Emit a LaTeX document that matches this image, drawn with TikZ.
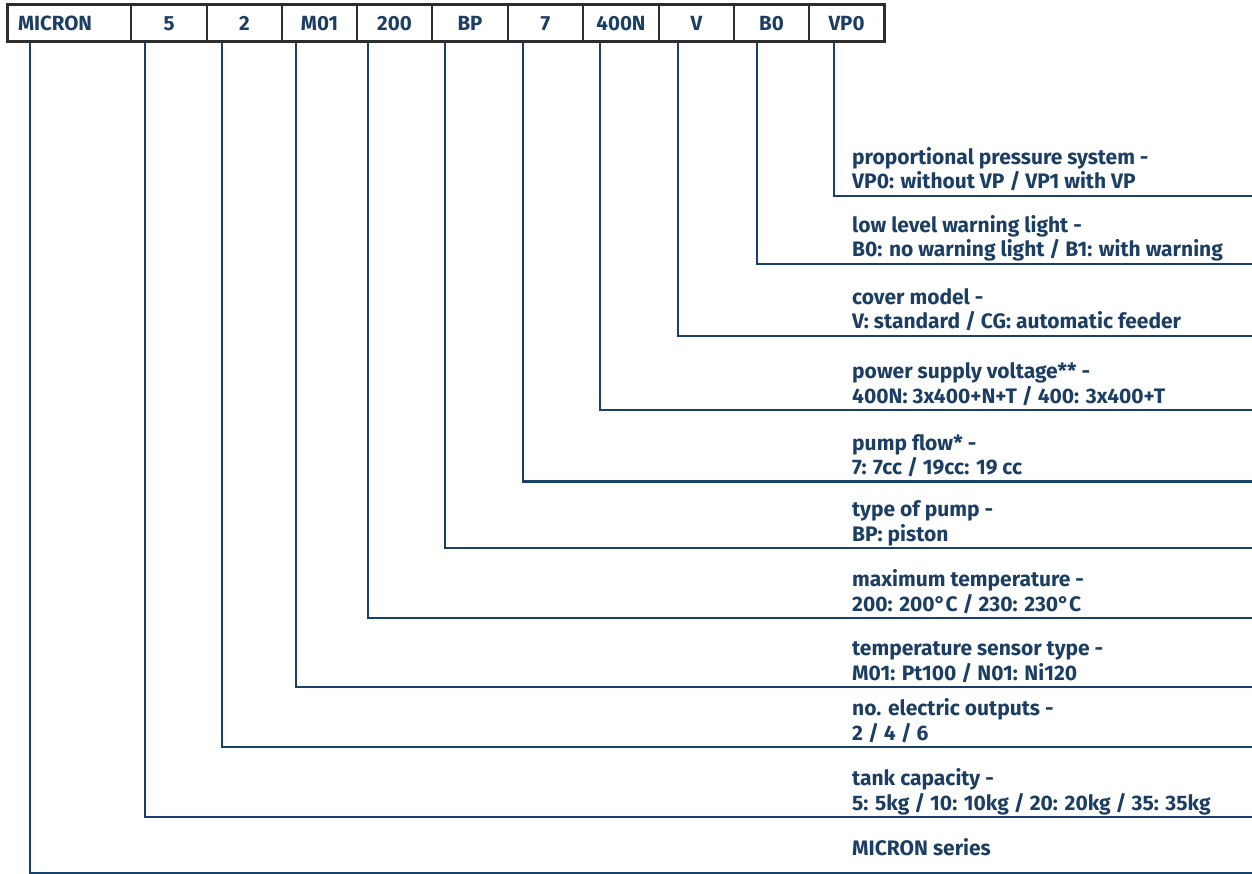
\documentclass[tikz,border=0pt]{standalone}
\usepackage{fontspec}
\setmainfont{Fira Sans}
\usetikzlibrary{calc}
\definecolor{navy}{RGB}{24,64,104}
\definecolor{txt}{RGB}{28,62,98}
\definecolor{boxline}{RGB}{45,45,45}
\begin{document}
\begin{tikzpicture}[x=1pt,y=-1pt,
  cell/.style={draw=boxline,line width=2pt,minimum height=37pt,inner sep=0pt,outer sep=0pt,
    text=txt,font=\fontsize{20.5}{22}\selectfont\bfseries},
  conn/.style={draw=navy,line width=2.8pt},
  lbl/.style={anchor=base west,inner sep=0pt,align=left,text=txt,
    font=\fontsize{21}{24.5}\selectfont\bfseries}]
\useasboundingbox (0,0) rectangle (1252,874);
% header cells
\node[cell,minimum width=124pt,anchor=north west,text width=124pt,align=left] (c0) at (7,5) {\hspace*{11pt}MICRON};
\foreach \n/\t/\a/\b in {1/5/131/207,2/2/207/282,3/M01/282/357,4/200/357/432,5/BP/432/508,6/7/508/583,7/400N/583/659,8/V/659/734,9/B0/734/809,10/VP0/809/884}{
  \node[cell,minimum width=\b-\a,anchor=north west] (c\n) at (\a,5) {\t};
}
\draw[boxline,line width=3pt] (c0.north west) rectangle (c10.south east);
% end coordinates
\coordinate (e10) at (1252,196);
\coordinate (e9) at (1252,264);
\coordinate (e8) at (1252,336);
\coordinate (e7) at (1252,410);
\coordinate (e6) at (1252,481.5);
\coordinate (e5) at (1252,548);
\coordinate (e4) at (1252,618);
\coordinate (e3) at (1252,687);
\coordinate (e2) at (1252,747);
\coordinate (e1) at (1252,817);
\coordinate (e0) at (1252,873);
% connectors
\foreach \n/\x in {0/30,1/145,2/222,3/296,4/368,5/445,6/523,7/600,8/678,9/757,10/834}{
  \draw[conn] ([yshift=-1.5pt]c\n.south -| \x,0) |- (e\n);
}
% labels
\node[lbl] (l10) at (852,196-7) {proportional pressure system -\\VP0: without VP / VP1 with VP};
\node[lbl] (l9) at (852,264-7) {low level warning light -\\B0: no warning light / B1: with warning};
\node[lbl] (l8) at (852,336-7) {cover model -\\V: standard / CG: automatic feeder};
\node[lbl] (l7) at (852,410-7) {power supply voltage** -\\400N: 3x400+N+T / 400: 3x400+T};
\node[lbl] (l6) at (852,481.5-7) {pump flow* -\\7: 7cc / 19cc: 19 cc};
\node[lbl] (l5) at (852,548-7) {type of pump -\\BP: piston};
\node[lbl] (l4) at (852,618-7) {maximum temperature -\\200: 200°C / 230: 230°C};
\node[lbl] (l3) at (852,687-7) {temperature sensor type -\\M01: Pt100 / N01: Ni120};
\node[lbl] (l2) at (852,747-7) {no. electric outputs -\\2 / 4 / 6};
\node[lbl] (l1) at (852,817-7) {tank capacity -\\5: 5kg / 10: 10kg / 20: 20kg / 35: 35kg};
\node[lbl] (l0) at (852,855) {MICRON series};
\end{tikzpicture}
\end{document}
